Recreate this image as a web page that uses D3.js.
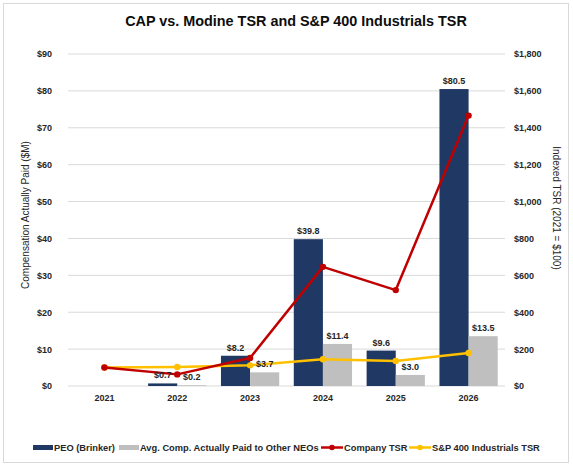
<!DOCTYPE html>
<html>
<head>
<meta charset="utf-8">
<script src="https://cdn.jsdelivr.net/npm/d3@7"></script>
<style>
  body { margin: 0; background: #fff; }
  svg { font-family: "Liberation Sans", Arial, sans-serif; }
</style>
</head>
<body>
<div id="chart"></div>
<script>
const years = ["2021", "2022", "2023", "2024", "2025", "2026"];
const peoCap = [null, 0.7, 8.2, 39.8, 9.6, 80.5];
const neoCap = [null, 0.2, 3.7, 11.4, 3.0, 13.5];
const companyTsr = [100, 63, 152, 646, 520, 1466];
const spTsr = [100, 103, 112, 145, 136, 179];
const leftTicks = [0, 10, 20, 30, 40, 50, 60, 70, 80, 90];
const rightTicks = [0, 200, 400, 600, 800, 1000, 1200, 1400, 1600, 1800];

const W = 573, H = 468;
const margin = { top: 54, right: 68, bottom: 82, left: 68 };
const width = W - margin.left - margin.right;
const height = H - margin.top - margin.bottom;
const txt = "#262626";

const svg = d3.select("#chart").append("svg")
    .attr("width", W)
    .attr("height", H);

// outer frame
svg.append("rect")
    .attr("x", 3.5).attr("y", 3.5)
    .attr("width", W - 8).attr("height", H - 9)
    .attr("fill", "#fff")
    .attr("stroke", "#d9d9d9");

svg.append("text")
    .attr("x", 296)
    .attr("y", 26)
    .attr("text-anchor", "middle")
    .attr("font-size", 14.4)
    .attr("font-weight", "bold")
    .attr("fill", "#0d0d0d")
    .text("CAP vs. Modine TSR and S&P 400 Industrials TSR");

const g = svg.append("g")
    .attr("transform", `translate(${margin.left}, ${margin.top})`);

const x = d3.scaleBand().domain(years).range([0, width]);
const yL = d3.scaleLinear().domain([0, 90]).range([height, 0]);
const yR = d3.scaleLinear().domain([0, 1800]).range([height, 0]);

// gridlines
g.append("g")
    .selectAll("line")
    .data(leftTicks)
    .enter()
    .append("line")
    .attr("x1", 0).attr("x2", width)
    .attr("y1", d => yL(d)).attr("y2", d => yL(d))
    .attr("stroke", "#d9d9d9")
    .attr("stroke-width", 1);

function styleTicks(sel) {
    sel.select(".domain").remove();
    sel.selectAll("text")
        .attr("font-size", 9)
        .attr("font-weight", "bold")
        .attr("fill", txt)
        .attr("font-family", "Liberation Sans, Arial, sans-serif");
}

// left axis
g.append("g")
    .call(d3.axisLeft(yL).tickValues(leftTicks).tickSize(0).tickPadding(16).tickFormat(d => "$" + d))
    .call(styleTicks);

// right axis
g.append("g")
    .attr("transform", `translate(${width}, 0)`)
    .call(d3.axisRight(yR).tickValues(rightTicks).tickSize(0).tickPadding(9).tickFormat(d => "$" + d3.format(",")(d)))
    .call(styleTicks);

// x axis
g.append("g")
    .attr("transform", `translate(0, ${height})`)
    .call(d3.axisBottom(x).tickSize(0).tickPadding(9))
    .call(styleTicks);

// axis titles
svg.append("text")
    .attr("transform", `translate(29, ${margin.top + height / 2 - 5}) rotate(-90)`)
    .attr("text-anchor", "middle")
    .attr("font-size", 10)
    .attr("fill", txt)
    .text("Compensation Actually Paid ($M)");

svg.append("text")
    .attr("transform", `translate(553, ${margin.top + height / 2 - 12}) rotate(90)`)
    .attr("text-anchor", "middle")
    .attr("font-size", 10)
    .attr("fill", txt)
    .text("Indexed TSR (2021 = $100)");

// bars
const barW = x.bandwidth() * 0.4;
const barData = years.map((yr, i) => ({ yr, peo: peoCap[i], neo: neoCap[i] }));

g.selectAll(".peo")
    .data(barData.filter(d => d.peo !== null))
    .enter()
    .append("rect")
    .attr("class", "peo")
    .attr("x", d => x(d.yr) + x.bandwidth() / 2 - barW)
    .attr("y", d => yL(d.peo))
    .attr("width", barW)
    .attr("height", d => height - yL(d.peo))
    .attr("fill", "#1f3864");

g.selectAll(".neo")
    .data(barData.filter(d => d.neo !== null))
    .enter()
    .append("rect")
    .attr("class", "neo")
    .attr("x", d => x(d.yr) + x.bandwidth() / 2)
    .attr("y", d => yL(d.neo))
    .attr("width", barW)
    .attr("height", d => height - yL(d.neo))
    .attr("fill", "#bfbfbf");

// lines
const cx = yr => x(yr) + x.bandwidth() / 2;
const line = d3.line().x(d => cx(d.yr)).y(d => yR(d.v));

function drawSeries(values, color) {
    const pts = years.map((yr, i) => ({ yr, v: values[i] }));
    g.append("path")
        .datum(pts)
        .attr("d", line)
        .attr("fill", "none")
        .attr("stroke", color)
        .attr("stroke-width", 2.5)
        .attr("stroke-linejoin", "round");
    g.selectAll(null)
        .data(pts)
        .enter()
        .append("circle")
        .attr("cx", d => cx(d.yr))
        .attr("cy", d => yR(d.v))
        .attr("r", 3.2)
        .attr("fill", color);
}
drawSeries(spTsr, "#ffc000");
drawSeries(companyTsr, "#c00000");

// bar labels
g.selectAll(".peo-label")
    .data(barData.filter(d => d.peo !== null))
    .enter()
    .append("text")
    .attr("x", d => x(d.yr) + x.bandwidth() / 2 - barW / 2)
    .attr("y", d => yL(d.peo) - 5)
    .attr("text-anchor", "middle")
    .attr("font-size", 9)
    .attr("font-weight", "bold")
    .attr("fill", txt)
    .text(d => "$" + d.peo.toFixed(1));

g.selectAll(".neo-label")
    .data(barData.filter(d => d.neo !== null))
    .enter()
    .append("text")
    .attr("x", d => x(d.yr) + x.bandwidth() / 2 + barW / 2)
    .attr("y", d => yL(d.neo) - 5)
    .attr("text-anchor", "middle")
    .attr("font-size", 9)
    .attr("font-weight", "bold")
    .attr("fill", txt)
    .text(d => "$" + d.neo.toFixed(1));

// legend
const legend = svg.append("g").attr("transform", "translate(0, 447.5)");
const items = [
    { label: "PEO (Brinker)", color: "#1f3864", type: "bar", x: 33, w: 20 },
    { label: "Avg. Comp. Actually Paid to Other NEOs", color: "#bfbfbf", type: "bar", x: 119, w: 20 },
    { label: "Company TSR", color: "#c00000", type: "line", x: 321, w: 22 },
    { label: "S&P 400 Industrials TSR", color: "#ffc000", type: "line", x: 409, w: 22 }
];
items.forEach(it => {
    const li = legend.append("g").attr("transform", `translate(${it.x}, 0)`);
    if (it.type === "bar") {
        li.append("rect").attr("x", 0).attr("y", -2.5).attr("width", it.w).attr("height", 5).attr("fill", it.color);
    } else {
        li.append("line").attr("x1", 0).attr("x2", it.w).attr("y1", 0).attr("y2", 0)
            .attr("stroke", it.color).attr("stroke-width", 2.5);
        li.append("circle").attr("cx", it.w / 2).attr("cy", 0).attr("r", 2.8).attr("fill", it.color);
    }
    li.append("text")
        .attr("x", it.w + 1)
        .attr("y", 3.3)
        .attr("font-size", 9.3)
        .attr("font-weight", "bold")
        .attr("fill", txt)
        .text(it.label);
});
</script>
</body>
</html>
